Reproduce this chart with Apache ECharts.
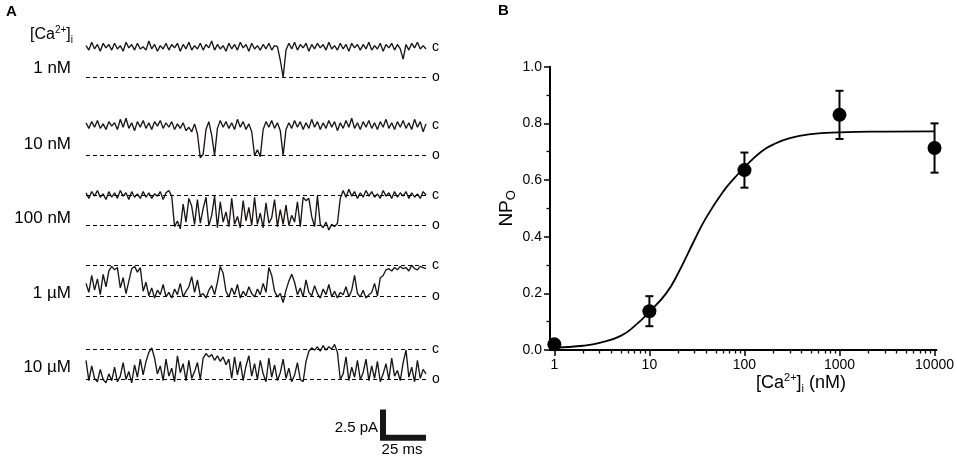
<!DOCTYPE html>
<html>
<head>
<meta charset="utf-8">
<script src="https://cdn.jsdelivr.net/npm/echarts@6/dist/echarts.min.js"></script>
<style>
html, body { margin: 0; padding: 0; background: #fff; }
#main { width: 957px; height: 458px; }
</style>
</head>
<body>
<div id="main"></div>
<script>
// ---- Panel A: single-channel traces, current in pA (closed = 0, open ~ -2.7) ----
var traceLabels = ['1 nM', '10 nM', '100 nM', '1 µM', '10 µM'];
var trace1nM = [
  0.1, -0.3, 0.4, -0.2, 0.2, -0.4, 0.3, -0.1, 0.2, -0.3,
  0.3, -0.2, 0.1, -0.4, 0.4, -0.1, 0.2, -0.3, 0.3, -0.2,
  0.0, -0.3, 0.5, -0.2, 0.2, -0.4, 0.1, -0.2, 0.3, -0.3,
  0.2, -0.1, 0.3, -0.4, 0.2, -0.2, 0.4, -0.3, 0.1, -0.2,
  0.3, -0.3, 0.2, -0.1, 0.5, -0.3, 0.2, -0.2, 0.1, -0.4,
  0.3, -0.2, 0.2, -0.3, 0.4, -0.1, 0.2, -0.4, 0.3, -0.2,
  0.1, -0.3, 0.2, -0.2, 0.3, -0.3, 0.1, 0.0, -1.2, -2.7,
  -0.3, 0.3, -0.2, 0.4, -0.3, 0.2, -0.1, 0.3, -0.4, 0.2,
  -0.2, 0.3, -0.1, 0.2, -0.3, 0.4, -0.2, 0.1, -0.3, 0.3,
  -0.2, 0.2, -0.4, 0.3, -0.1, 0.2, -0.3, 0.2, -0.2, 0.4,
  -0.3, 0.1, -0.2, 0.3, -0.4, 0.2, -0.1, 0.3, -0.3, 0.2,
  -0.2, -1.1, 0.2, -0.3, 0.3, -0.1, 0.4, -0.2, 0.1, -0.2
];
var trace10nM = [
  0.2, -0.3, 0.3, -0.2, 0.4, -0.3, 0.1, -0.4, 0.3, -0.1,
  0.2, -0.4, 0.5, -0.2, 0.6, -0.3, 0.2, -0.5, 0.3, -0.2,
  0.4, -0.3, 0.2, -0.4, 0.3, -0.1, 0.4, -0.3, 0.2, -0.2,
  0.3, -0.4, 0.1, -0.3, 0.2, -0.5, -0.2, -0.6, 0.1, -0.8,
  -2.9, -2.6, -0.4, 0.3, -0.9, -2.7, -0.3, 0.4, -0.2, 0.3,
  -0.3, 0.2, -0.4, 0.5, -0.2, 0.3, -0.4, 0.1, -0.6, -2.7,
  -2.2, -2.8, -0.4, 0.3, -0.2, 0.4, -0.3, 0.2, -0.5, -2.7,
  -0.4, 0.2, -0.3, 0.4, -0.2, 0.3, -0.4, 0.2, -0.3, 0.5,
  -0.2, 0.3, -0.4, 0.2, -0.3, 0.4, -0.2, 0.3, -0.5, 0.2,
  -0.3, 0.4, -0.2, 0.6, -0.3, 0.2, -0.4, 0.3, -0.2, 0.4,
  -0.3, 0.2, -0.4, 0.3, -0.2, 0.5, -0.3, 0.2, -0.4, 0.3,
  -0.2, 0.4, -0.3, 0.2, -0.4, 0.5, -0.2, 0.3, -0.6, 0.1
];
var trace100nM = [
  0.2, -0.3, 0.3, -0.1, 0.4, -0.2, 0.1, -0.4, 0.3, -0.2,
  0.2, -0.3, 0.4, -0.1, 0.2, -0.4, 0.3, -0.2, 0.1, -0.3,
  0.3, -0.2, 0.2, -0.3, 0.1, -0.1, 0.3, -0.4, 0.2, 0.4,
  -0.1, -2.8, -2.3, -3.0, -0.8, -2.4, -0.3, -1.0, -2.6, -0.4,
  -2.5, -1.2, -0.2, -2.7, -1.8, -0.1, -2.9, -0.6, -2.4, -1.5,
  -2.8, -0.3, -2.6, -1.9, -2.9, -0.5, -2.3, -1.1, -2.7, -0.2,
  -2.6, -1.6, -2.9, -0.7, -2.5, -2.0, -0.4, -2.8, -1.3, -2.6,
  -0.9, -2.7, -1.8, -2.4, -0.6, -2.8, -0.2, -0.5, -0.3, -1.9,
  -2.8, -0.1, -2.6, -2.9, -2.4, -3.1, -2.6, -2.8, -2.5, -0.3,
  0.4, -0.2, 0.5, -0.1, 0.3, -0.3, 0.2, -0.2, 0.4, -0.1,
  0.3, -0.2, 0.1, -0.3, 0.4, -0.1, 0.2, -0.3, 0.3, -0.2,
  0.2, -0.1, 0.3, -0.3, 0.2, -0.2, 0.1, -0.3, 0.3, 0.0
];
var trace1uM = [
  -1.6, -2.4, -0.9, -2.2, -1.2, -2.6, -0.8, -1.9, -0.5, -0.1,
  -0.4, -0.2, -2.0, -1.1, -2.5, -1.4, -0.3, -0.1, -0.6, -0.2,
  -2.3, -1.5, -2.7, -2.0, -2.9, -2.2, -2.6, -1.7, -2.8, -2.4,
  -2.9, -2.1, -2.6, -1.6, -2.8, -2.3, -1.9, -1.0, -2.4, -1.3,
  -2.7, -2.5, -2.9, -2.2, -1.8, -2.6, -1.5, -0.1, -0.7, -2.3,
  -2.8, -2.0, -2.6, -1.7, -2.9, -2.3, -2.7, -1.9, -2.5, -2.8,
  -2.1, -2.6, -1.6, -2.4, -0.2, -0.9, -2.3, -2.8, -2.5, -3.3,
  -2.2, -1.4, -0.8, -1.5, -2.6, -2.0, -2.8, -1.3, -2.4, -2.7,
  -1.8, -2.5, -2.9, -2.1, -2.6, -1.7, -2.8, -2.3, -2.9, -2.4,
  -2.6, -1.9, -2.8, -2.2, -0.9, -2.5, -2.8, -2.2, -2.9, -2.6,
  -2.4, -1.6, -2.7, -1.1, -0.9, -0.4, -0.3, -0.5, -0.2, -0.4,
  -0.1, -0.3, -0.2, -0.5, 0.0, -0.3, -0.4, -0.1, -0.2, -0.3
];
var trace10uM = [
  -1.0, -2.8, -1.5, -2.6, -2.9, -1.8, -2.7, -3.0, -2.2, -2.8,
  -1.6, -2.9, -2.4, -1.2, -2.7, -2.0, -3.0, -1.4, -2.5, -0.9,
  -2.3, -1.1, -0.3, 0.1, -0.8, -2.2, -1.5, -2.8, -0.9, -2.4,
  -1.7, -2.9, -0.6, -2.1, -1.3, -2.8, -1.0, -2.6, -2.0, -1.2,
  -2.7, -0.8, -0.4, -0.7, -0.5, -1.0, -0.6, -1.1, -0.7, -1.4,
  -0.9, -2.6, -0.7, -2.3, -1.1, -2.8, -1.5, -0.6, -2.4, -1.3,
  -2.7, -1.0, -2.2, -2.9, -0.8, -2.5, -1.4, -2.8, -2.1, -0.9,
  -2.6, -1.7, -2.9, -2.3, -1.2, -2.7, -2.9, -1.1, -0.2, 0.1,
  -0.1, 0.2, -0.2, 0.3, -0.1, 0.2, 0.0, 0.4, -0.3, -2.7,
  -2.2, -0.7, -2.8, -1.6, -2.5, -1.0, -2.7, -2.1, -0.9, -2.8,
  -1.5, -2.6, -1.1, -2.9, -2.2, -1.3, -2.7, -0.8, -2.4, -1.9,
  -2.8, -1.2, -0.1, -2.5, -1.6, -2.9, -1.0, -2.6, -1.8, -2.2
];
var traces = [trace1nM, trace10nM, trace100nM, trace1uM, trace10uM];
var showClosedLine = [false, false, true, true, true];
var unitaryPA = -2.7;     // open level
var sampleMs = 1.66;      // sampling interval
var scaleBarMs = 25;
var scaleBarPA = 2.5;

// ---- Panel B: NPo vs [Ca2+]i ----
var concNM = [1, 10, 100, 1000, 10000];
var npoMean = [0.020, 0.137, 0.635, 0.830, 0.713];
var npoSem = [0.005, 0.053, 0.062, 0.085, 0.087];
var fitConc = [1, 2, 3, 5, 7, 10, 15, 20, 30, 40, 60, 80, 100, 150, 200, 300, 500, 1000, 3000, 10000];
var fitNPo = [0.008, 0.015, 0.025, 0.050, 0.085, 0.135, 0.200, 0.270, 0.390, 0.470, 0.560, 0.610, 0.645, 0.700, 0.725, 0.748, 0.762, 0.768, 0.771, 0.772];
var xTickLabels = ['1', '10', '100', '1000', '10000'];

var FONT = 'Liberation Sans, Arial, Helvetica, sans-serif';
var INK = '#1b1616';

var myChart = echarts.init(document.getElementById('main'));

// layout of panel A rows: pixel y of the closed level for each trace
var closedY = [46.7, 125, 195, 265.3, 349];
var pxPerPA = 30.5 / 2.7;
var yMinPA = -4, yMaxPA = 1;
var tMax = (trace1nM.length - 1) * sampleMs;

var grids = [], xAxes = [], yAxes = [], series = [];

traces.forEach(function (tr, i) {
  grids.push({
    left: 86, width: 340,
    top: closedY[i] - yMaxPA * pxPerPA,
    height: (yMaxPA - yMinPA) * pxPerPA
  });
  xAxes.push({ type: 'value', gridIndex: i, min: 0, max: tMax, show: false });
  yAxes.push({ type: 'value', gridIndex: i, min: yMinPA, max: yMaxPA, show: false });
  series.push({
    type: 'line',
    xAxisIndex: i, yAxisIndex: i,
    data: tr.map(function (v, k) { return [k * sampleMs, v]; }),
    showSymbol: false, symbol: 'none', clip: false,
    lineStyle: { color: INK, width: 1.35 },
    z: 3,
    markLine: {
      silent: true, symbol: ['none', 'none'], animation: false,
      lineStyle: { color: '#000', width: 1.2, type: [4, 3] },
      label: { show: true, position: 'end', distance: 6, color: '#000', fontSize: 14, fontFamily: FONT },
      data: [
        { yAxis: 0, label: { formatter: 'c' }, lineStyle: { color: showClosedLine[i] ? '#000' : 'rgba(0,0,0,0)' } },
        { yAxis: unitaryPA, label: { formatter: 'o' } }
      ]
    }
  });
});

// scale bar, drawn in its own ms / pA coordinate system
var pxPerMs = 340 / tMax;
grids.push({ left: 383, top: 437.7 - scaleBarPA * pxPerPA, width: scaleBarMs * pxPerMs, height: scaleBarPA * pxPerPA });
xAxes.push({ type: 'value', gridIndex: 5, min: 0, max: scaleBarMs, show: false });
yAxes.push({ type: 'value', gridIndex: 5, min: 0, max: scaleBarPA, show: false });
series.push({
  type: 'line', xAxisIndex: 5, yAxisIndex: 5, clip: false,
  data: [[0, scaleBarPA], [0, 0], [scaleBarMs, 0]],
  showSymbol: false, symbol: 'none',
  lineStyle: { color: INK, width: 6, join: 'miter' }
});

// panel B
var minorTicks = [];
for (var d = 0; d < 4; d++) {
  for (var m = 2; m <= 9; m++) minorTicks.push(Math.log10(m * Math.pow(10, d)));
}
var majorTicks = xTickLabels.map(function (s) { return Math.log10(+s); });

grids.push({ left: 550, right: 20, top: 66.7, bottom: 108 });
xAxes.push({
  type: 'value', gridIndex: 6, position: 'bottom',
  min: Math.log10(0.9), max: 4.02,
  axisLine: { show: true, onZero: false, lineStyle: { color: '#000', width: 2 } },
  axisTick: { show: true, customValues: majorTicks, length: 6, lineStyle: { color: '#000', width: 1.5 } },
  axisLabel: {
    show: true, customValues: majorTicks, margin: 8,
    formatter: function (v) { return xTickLabels[Math.round(v)]; },
    color: '#000', fontSize: 14, fontFamily: FONT
  },
  splitLine: { show: false }
});
xAxes.push({
  type: 'value', gridIndex: 6, position: 'bottom',
  min: Math.log10(0.9), max: 4.02,
  axisLine: { show: false, onZero: false },
  axisTick: { show: true, customValues: minorTicks, length: 3.5, lineStyle: { color: '#000', width: 1.3 } },
  axisLabel: { show: false },
  splitLine: { show: false }
});
yAxes.push({
  type: 'value', gridIndex: 6, min: 0, max: 1, interval: 0.2,
  axisLine: { show: true, onZero: false, lineStyle: { color: '#000', width: 2 } },
  axisTick: { show: true, length: 6, lineStyle: { color: '#000', width: 1.5 } },
  minorTick: { show: true, splitNumber: 2, length: 3.5, lineStyle: { color: '#000', width: 1.3 } },
  axisLabel: {
    margin: 8, color: '#000', fontSize: 14, fontFamily: FONT,
    formatter: function (v) { return v.toFixed(1); }
  },
  splitLine: { show: false },
  minorSplitLine: { show: false },
  name: '{n|NP}{s|O}',
  nameLocation: 'middle', nameRotate: 90, nameGap: 32,
  nameTextStyle: {
    rich: {
      n: { fontSize: 19, fontFamily: FONT, color: '#000', lineHeight: 22 },
      s: { fontSize: 13, fontFamily: FONT, color: '#000', lineHeight: 12, verticalAlign: 'bottom' }
    }
  }
});

series.push({
  type: 'line', xAxisIndex: 6, yAxisIndex: 6,
  data: fitConc.map(function (c, k) { return [Math.log10(c), fitNPo[k]]; }),
  smooth: true, showSymbol: false, symbol: 'none',
  lineStyle: { color: '#000', width: 1.8 }, z: 2
});
series.push({
  type: 'custom', xAxisIndex: 6, yAxisIndex: 6,
  data: concNM.map(function (c, k) { return [Math.log10(c), npoMean[k] - npoSem[k], npoMean[k] + npoSem[k]]; }),
  encode: { x: 0, y: [1, 2] },
  renderItem: function (params, api) {
    var x = api.value(0);
    var top = api.coord([x, api.value(2)]);
    var bot = api.coord([x, api.value(1)]);
    var w = 4, st = { stroke: '#000', lineWidth: 2 };
    return {
      type: 'group',
      children: [
        { type: 'line', shape: { x1: top[0], y1: top[1], x2: bot[0], y2: bot[1] }, style: st },
        { type: 'line', shape: { x1: top[0] - w, y1: top[1], x2: top[0] + w, y2: top[1] }, style: st },
        { type: 'line', shape: { x1: bot[0] - w, y1: bot[1], x2: bot[0] + w, y2: bot[1] }, style: st }
      ]
    };
  },
  z: 3
});
series.push({
  type: 'scatter', xAxisIndex: 6, yAxisIndex: 6,
  data: concNM.map(function (c, k) { return [Math.log10(c), npoMean[k]]; }),
  symbol: 'circle', symbolSize: 14,
  itemStyle: { color: '#000', opacity: 1 }, z: 4
});

function txt(x, y, text, size, align, extra) {
  var st = {
    text: text, fill: '#000', fontSize: size, fontFamily: FONT,
    align: align, textAlign: align, verticalAlign: 'middle', textVerticalAlign: 'middle'
  };
  if (extra) for (var k in extra) st[k] = extra[k];
  return { type: 'text', x: x, y: y, silent: true, style: st };
}

var supSub = function (size) {
  return {
    m: { fontSize: size, fontFamily: FONT, fill: '#000', lineHeight: size + 4 },
    sup: { fontSize: Math.round(size * 0.6), fontFamily: FONT, fill: '#000', lineHeight: 10, verticalAlign: 'top' },
    sub: { fontSize: Math.round(size * 0.6), fontFamily: FONT, fill: '#000', lineHeight: 10, verticalAlign: 'bottom' }
  };
};

var labelY = [68, 144, 218, 293, 367];
var graphics = [
  txt(6, 12, 'A', 15, 'left', { fontWeight: 'bold' }),
  txt(498, 11, 'B', 15, 'left', { fontWeight: 'bold' }),
  txt(73, 35, '{m|[Ca}{sup|2+}{m|]}{sub|i}', 16, 'right', { rich: supSub(16) }),
  txt(378, 428, '2.5 pA', 15, 'right'),
  txt(402, 450, '25 ms', 15, 'center'),
  txt(801, 383, '{m|[Ca}{sup|2+}{m|]}{sub|i}{m| (nM)}', 18, 'center', { rich: supSub(18) })
];
traceLabels.forEach(function (s, i) {
  graphics.push(txt(71, labelY[i], s, 17, 'right'));
});

option = {
  animation: false,
  backgroundColor: '#fff',
  grid: grids,
  xAxis: xAxes,
  yAxis: yAxes,
  series: series,
  graphic: { elements: graphics }
};

myChart.setOption(option);
</script>
</body>
</html>
